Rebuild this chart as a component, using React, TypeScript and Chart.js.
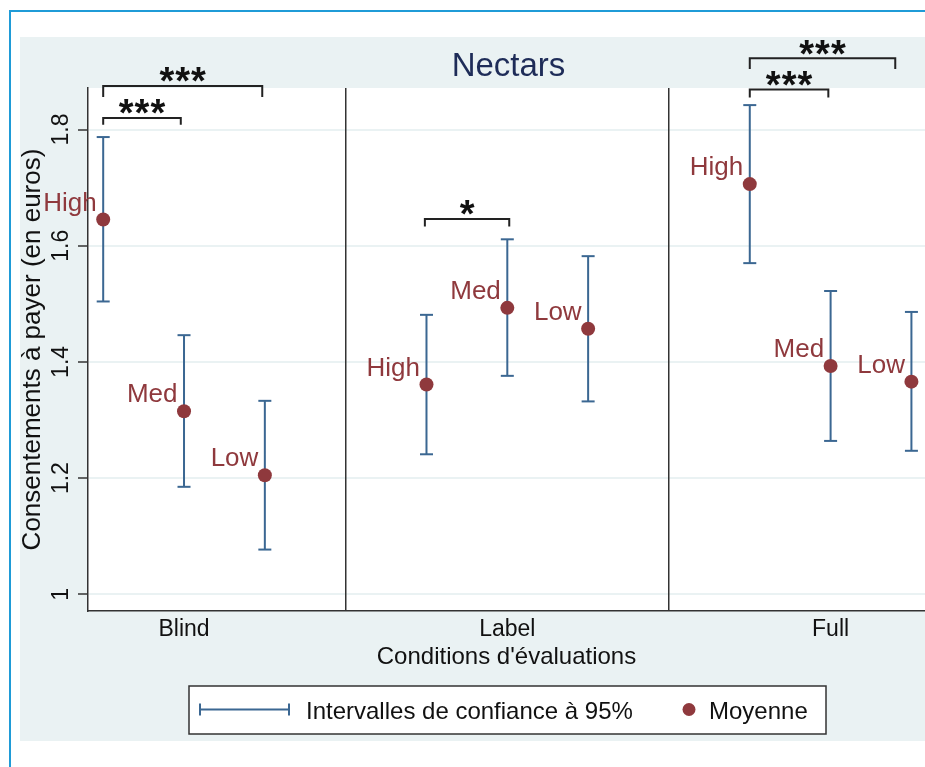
import React, { useEffect, useRef } from "react";
import { Chart, registerables } from "chart.js";

Chart.register(...registerables);

// ---------- data ----------
const chartTitle = "Nectars";
const conditions = ["Blind", "Label", "Full"];
const levels = ["High", "Med", "Low"];
const levelOffsets = [-0.25, 0, 0.25];

const meanBlind = [1.645, 1.315, 1.205];
const meanLabel = [1.361, 1.493, 1.457];
const meanFull = [1.706, 1.393, 1.366];

const ciLowBlind = [1.504, 1.185, 1.077];
const ciLowLabel = [1.241, 1.376, 1.332];
const ciLowFull = [1.57, 1.264, 1.247];

const ciHighBlind = [1.787, 1.446, 1.333];
const ciHighLabel = [1.481, 1.611, 1.582];
const ciHighFull = [1.842, 1.522, 1.486];

const yTicks = [1, 1.2, 1.4, 1.6, 1.8];
const yTickLabels = ["1", "1.2", "1.4", "1.6", "1.8"];
const yTitle = "Consentements à payer (en euros)";
const xTitle = "Conditions d'évaluations";
const legendLabels = ["Intervalles de confiance à 95%", "Moyenne"];

// significance brackets (data units)
const bracketX1 = [0.75, 0.75, 1.745, 2.75, 2.75];
const bracketX2 = [0.99, 1.242, 2.006, 2.993, 3.2];
const bracketY = [1.82, 1.875, 1.646, 1.869, 1.9225];
const bracketFoot = [1.808, 1.856, 1.633, 1.855, 1.904];
const bracketStars = ["***", "***", "*", "***", "***"];

// ---------- style ----------
const FONT = '"Liberation Sans", Arial, Helvetica, sans-serif';
const BG = "#eaf2f3";
const AXIS = "#333333";
const CI_COLOR = "#3b6792";
const MEAN_COLOR = "#8f393d";
const TITLE_COLOR = "#1e2c58";
const TEXT = "#111111";

export default function App() {
  const ref = useRef<HTMLCanvasElement | null>(null);

  useEffect(() => {
    const canvas = ref.current;
    if (!canvas) return;

    const means = [meanBlind, meanLabel, meanFull];
    const lows = [ciLowBlind, ciLowLabel, ciLowFull];
    const highs = [ciHighBlind, ciHighLabel, ciHighFull];

    const meanPts: { x: number; y: number }[] = [];
    const errPts: { x: number; y: number | null }[] = [];
    const pointLevels: string[] = [];
    conditions.forEach((_, ci) => {
      levels.forEach((lv, li) => {
        const x = ci + 1 + levelOffsets[li];
        meanPts.push({ x, y: means[ci][li] });
        errPts.push({ x, y: lows[ci][li] }, { x, y: highs[ci][li] }, { x, y: null });
        pointLevels.push(lv);
      });
    });
    const dividers = conditions.slice(1).map((_, i) => i + 1.5);

    const decor = {
      id: "stataDecor",
      beforeDraw(chart: any) {
        const { ctx, chartArea: a, width, height } = chart;
        ctx.save();
        ctx.fillStyle = "#ffffff";
        ctx.fillRect(0, 0, width, height);
        ctx.fillStyle = BG;
        ctx.fillRect(20, 37, width, 741 - 37);
        ctx.strokeStyle = "#1f9bd7";
        ctx.lineWidth = 2;
        ctx.strokeRect(10, 11, width + 20, height + 20);
        ctx.fillStyle = "#ffffff";
        ctx.fillRect(a.left, a.top, a.right - a.left, a.bottom - a.top);
        ctx.restore();
      },
      afterDraw(chart: any) {
        const { ctx, chartArea: a } = chart;
        const xs = chart.scales.x;
        const ys = chart.scales.y;
        ctx.save();

        // y tick labels (rotated)
        ctx.fillStyle = TEXT;
        ctx.font = `23px ${FONT}`;
        ctx.textAlign = "center";
        ctx.textBaseline = "alphabetic";
        yTicks.forEach((v, i) => {
          const py = ys.getPixelForValue(v);
          ctx.save();
          ctx.translate(a.left - 19.7, py);
          ctx.rotate(-Math.PI / 2);
          ctx.fillText(yTickLabels[i], 0, 0);
          ctx.restore();
        });

        // y title
        ctx.font = `26px ${FONT}`;
        ctx.save();
        ctx.translate(39.5, (a.top + a.bottom) / 2);
        ctx.rotate(-Math.PI / 2);
        ctx.fillText(yTitle, 0, 0);
        ctx.restore();

        // x labels
        ctx.font = `23px ${FONT}`;
        conditions.forEach((c, ci) => {
          ctx.fillText(c, xs.getPixelForValue(ci + 1), a.bottom + 25);
        });
        ctx.font = `24px ${FONT}`;
        ctx.fillText(xTitle, (a.left + a.right) / 2, a.bottom + 53);

        // title
        ctx.fillStyle = TITLE_COLOR;
        ctx.font = `33px ${FONT}`;
        ctx.fillText(chartTitle, (a.left + a.right) / 2 + 2, a.top - 12);

        // point labels
        const meta = chart.getDatasetMeta(0);
        ctx.fillStyle = MEAN_COLOR;
        ctx.font = `26px ${FONT}`;
        ctx.textAlign = "right";
        meta.data.forEach((pt: any, i: number) => {
          ctx.fillText(pointLevels[i], pt.x - 6.5, pt.y - 9);
        });

        // brackets
        ctx.strokeStyle = "#222222";
        ctx.fillStyle = "#111111";
        ctx.lineWidth = 2;
        ctx.textAlign = "center";
        ctx.font = `bold 38px ${FONT}`;
        try {
          (ctx as any).letterSpacing = "1px";
        } catch (e) {
          /* ignore */
        }
        bracketX1.forEach((bx, i) => {
          const x1 = xs.getPixelForValue(bx);
          const x2 = xs.getPixelForValue(bracketX2[i]);
          const y = ys.getPixelForValue(bracketY[i]);
          const yf = ys.getPixelForValue(bracketFoot[i]);
          ctx.beginPath();
          ctx.moveTo(x1, yf);
          ctx.lineTo(x1, y);
          ctx.lineTo(x2, y);
          ctx.lineTo(x2, yf);
          ctx.stroke();
          const m = ctx.measureText(bracketStars[i]);
          const base = y - 3.5 - m.actualBoundingBoxDescent;
          ctx.fillText(bracketStars[i], (x1 + x2) / 2 + 0.5, base);
        });
        try {
          (ctx as any).letterSpacing = "0px";
        } catch (e) {
          /* ignore */
        }

        // legend
        const lx = 189, ly = 686, lw = 637, lh = 48;
        ctx.fillStyle = "#ffffff";
        ctx.fillRect(lx, ly, lw, lh);
        ctx.strokeStyle = AXIS;
        ctx.lineWidth = 1.5;
        ctx.strokeRect(lx, ly, lw, lh);
        const cy = ly + lh / 2 - 0.5;
        ctx.strokeStyle = CI_COLOR;
        ctx.lineWidth = 2;
        ctx.beginPath();
        ctx.moveTo(199, cy);
        ctx.lineTo(290, cy);
        ctx.moveTo(200, cy - 6);
        ctx.lineTo(200, cy + 6);
        ctx.moveTo(289, cy - 6);
        ctx.lineTo(289, cy + 6);
        ctx.stroke();
        ctx.fillStyle = TEXT;
        ctx.font = `24px ${FONT}`;
        ctx.textAlign = "left";
        ctx.fillText(legendLabels[0], 306, cy + 9);
        ctx.fillStyle = MEAN_COLOR;
        ctx.beginPath();
        ctx.arc(689, cy, 6.5, 0, Math.PI * 2);
        ctx.fill();
        ctx.fillStyle = TEXT;
        ctx.fillText(legendLabels[1], 709, cy + 9);

        ctx.restore();
      },
    };

    const chart = new Chart(canvas, {
      type: "scatter",
      data: {
        datasets: [
          {
            type: "scatter",
            label: legendLabels[1],
            data: meanPts,
            pointRadius: 7,
            pointBackgroundColor: MEAN_COLOR,
            pointBorderColor: MEAN_COLOR,
            pointBorderWidth: 0,
          },
          {
            type: "line",
            label: legendLabels[0],
            data: errPts as any,
            borderColor: CI_COLOR,
            borderWidth: 2,
            spanGaps: false,
            fill: false,
            tension: 0,
            pointStyle: "line",
            pointRadius: 6.5,
            pointBorderColor: CI_COLOR,
            pointBorderWidth: 2,
          },
        ],
      } as any,
      options: {
        responsive: false,
        animation: false,
        events: [],
        layout: { autoPadding: false, padding: { left: 88, top: 88, right: 0, bottom: 156 } },
        plugins: {
          legend: { display: false },
          tooltip: { enabled: false },
          title: { display: false },
        },
        scales: {
          x: {
            type: "linear",
            position: "bottom",
            min: 0.703,
            max: 3.292,
            afterBuildTicks: (s: any) => {
              s.ticks = dividers.map((v) => ({ value: v }));
            },
            afterFit: (s: any) => {
              s.height = 0;
            },
            ticks: { display: false },
            grid: { display: true, drawOnChartArea: true, drawTicks: false, color: AXIS, lineWidth: 1.5 },
            border: { display: true, color: AXIS, width: 1.5 },
          },
          y: {
            type: "linear",
            min: 0.97126,
            max: 1.87143,
            afterBuildTicks: (s: any) => {
              s.ticks = yTicks.map((v) => ({ value: v }));
            },
            afterFit: (s: any) => {
              s.width = 0;
            },
            ticks: { display: false },
            grid: {
              z: -2,
              color: BG,
              lineWidth: 2,
              drawTicks: true,
              tickLength: 10,
              tickColor: AXIS,
              tickWidth: 1.5,
            },
            border: { display: true, color: AXIS, width: 1.5 },
          },
        },
      } as any,
      plugins: [decor],
    });

    return () => chart.destroy();
  }, []);

  return (
    <div style={{ position: "absolute", left: 0, top: 0, width: 925, height: 767, overflow: "hidden" }}>
      <canvas ref={ref} width={925} height={767} style={{ display: "block", width: 925, height: 767 }} />
    </div>
  );
}
